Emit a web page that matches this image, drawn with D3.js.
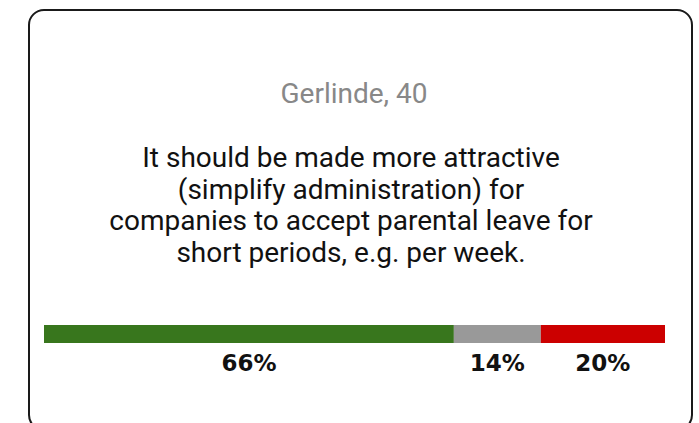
<!DOCTYPE html>
<html>
<head>
<meta charset="utf-8">
<script src="https://cdn.jsdelivr.net/npm/d3@7/dist/d3.min.js"></script>
<style>
html,body{margin:0;padding:0;background:#fff;}
svg{display:block;}
</style>
</head>
<body>
<svg id="chart" width="699" height="423"></svg>
<script>
const person = "Gerlinde, 40";
const statementLines = [
  "It should be made more attractive",
  "(simplify administration) for",
  "companies to accept parental leave for",
  "short periods, e.g. per week."
];
const categories = ["Agree", "Neutral", "Disagree"];
const values = [66, 14, 20];
const colors = ["#38761d", "#999999", "#cc0000"];
const valueLabels = ["66%", "14%", "20%"];

const svg = d3.select("#chart");

// card
svg.append("rect")
  .attr("x", 29).attr("y", 10)
  .attr("width", 663).attr("height", 420)
  .attr("rx", 15).attr("ry", 15)
  .attr("fill", "#fff")
  .attr("stroke", "#1a1a1a")
  .attr("stroke-width", 2);

const cx = 351;

svg.append("text")
  .attr("x", cx + 3).attr("y", 103)
  .attr("text-anchor", "middle")
  .attr("font-family", "Roboto")
  .attr("font-size", 28)
  .attr("fill", "#888")
  .text(person);

svg.append("g").selectAll("text")
  .data(statementLines)
  .join("text")
  .attr("x", cx)
  .attr("y", (d, i) => 167 + i * 31.5)
  .attr("text-anchor", "middle")
  .attr("font-family", "Roboto")
  .attr("font-size", 28)
  .attr("fill", "#111")
  .text(d => d);

// stacked bar
const stack = [];
let acc = 0;
values.forEach((v, i) => { stack.push({cat: categories[i], v, x0: acc, x1: acc + v, color: colors[i], label: valueLabels[i]}); acc += v; });

const x = d3.scaleLinear().domain([0, d3.sum(values)]).range([44, 665]);
const y = d3.scaleBand().domain(["bar"]).range([325, 343]);

svg.append("g").selectAll("rect")
  .data(stack)
  .join("rect")
  .attr("x", d => x(d.x0))
  .attr("y", y("bar"))
  .attr("width", d => x(d.x1) - x(d.x0))
  .attr("height", y.bandwidth())
  .attr("fill", d => d.color);

svg.append("g").selectAll("text")
  .data(stack)
  .join("text")
  .attr("x", d => (x(d.x0) + x(d.x1)) / 2)
  .attr("y", 371)
  .attr("text-anchor", "middle")
  .attr("font-family", "DejaVu Sans")
  .attr("font-weight", "bold")
  .attr("font-size", 23)
  .attr("fill", "#111")
  .text(d => d.label);
</script>
</body>
</html>
